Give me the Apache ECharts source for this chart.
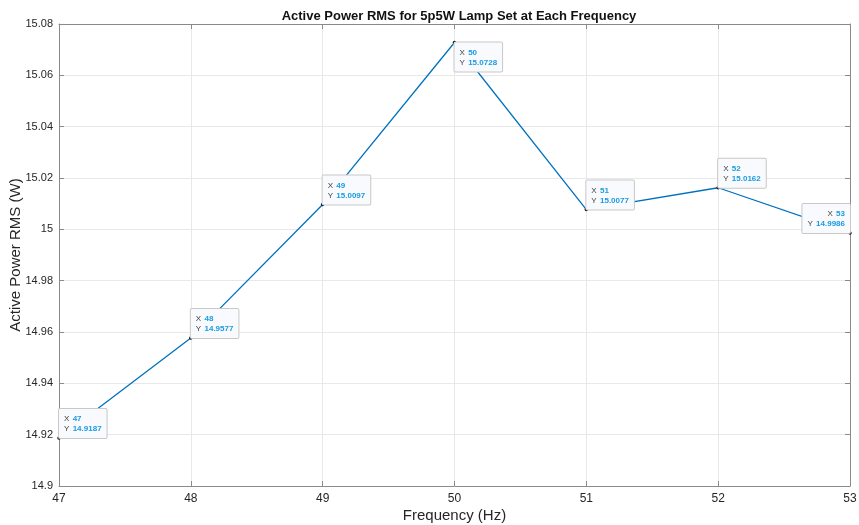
<!DOCTYPE html>
<html>
<head>
<meta charset="utf-8">
<script src="https://cdn.jsdelivr.net/npm/echarts@6/dist/echarts.min.js"></script>
<style>html,body{margin:0;padding:0;background:#fff}#c{width:859px;height:525px}</style>
</head>
<body>
<div id="c"></div>
<script>
const frequencies = [47, 48, 49, 50, 51, 52, 53];
const activePower = [14.9187, 14.9577, 15.0097, 15.0728, 15.0077, 15.0162, 14.9986];
const yTicks = [14.9, 14.92, 14.94, 14.96, 14.98, 15, 15.02, 15.04, 15.06, 15.08];
const xTicks = [47, 48, 49, 50, 51, 52, 53];

const FONT = "'Liberation Sans', Arial, Helvetica, sans-serif";
// datatip placement: [horizontal align, vertical align]
const tipPlacement = [
  ['left','bottom'],['left','bottom'],['left','bottom'],['left','top'],
  ['left','bottom'],['left','bottom'],['right','bottom']
];

const data = frequencies.map((f, i) => ({
  value: [f, activePower[i]],
  label: {
    show: true,
    position: 'inside',
    align: tipPlacement[i][0],
    verticalAlign: tipPlacement[i][1],
    formatter: () => '{k|X} {v|' + f + '}\n{k|Y} {v|' + activePower[i].toFixed(4) + '}',
    backgroundColor: '#f9fafd',
    borderColor: '#c8c8c8',
    borderWidth: 1,
    borderRadius: 1,
    padding: [5, 5, 4, 5],
    lineHeight: 10,
    rich: {
      k: { color: '#404040', fontSize: 8, fontFamily: FONT, lineHeight: 10 },
      v: { color: '#1a9be0', fontSize: 8, fontWeight: 'bold', fontFamily: FONT, lineHeight: 10 }
    }
  }
}));

const axisCommon = {
  axisLine: { show: true, lineStyle: { color: '#8a8a8a', width: 1 } },
  axisTick: { show: true, inside: true, length: 5, lineStyle: { color: '#8a8a8a' } }
};

const chart = echarts.init(document.getElementById('c'), null, { renderer: 'canvas' });
chart.setOption({
  animation: false,
  backgroundColor: '#ffffff',
  title: {
    text: 'Active Power RMS for 5p5W Lamp Set at Each Frequency',
    left: 454, top: 5, textAlign: 'center',
    textStyle: { fontFamily: FONT, fontSize: 13, fontWeight: 'bold', color: '#111' }
  },
  grid: { left: 59, right: 9, top: 24, bottom: 39, show: false, containLabel: false, outerBoundsMode: 'none' },
  xAxis: [{
    type: 'value', min: 47, max: 53, interval: 1,
    name: 'Frequency (Hz)', nameLocation: 'middle', nameGap: 22, nameMoveOverlap: false,
    nameTextStyle: { fontFamily: FONT, fontSize: 15, color: '#262626' },
    axisLabel: { fontFamily: FONT, fontSize: 12, color: '#262626', margin: 7,
      formatter: v => xTicks.includes(v) ? String(v) : '' },
    splitLine: { show: true, lineStyle: { color: '#e8e8e8', width: 1 } },
    ...axisCommon
  }, {
    type: 'value', position: 'top', min: 47, max: 53, interval: 1,
    axisLabel: { show: false }, splitLine: { show: false },
    ...axisCommon
  }],
  yAxis: [{
    type: 'value', min: 14.9, max: 15.08, interval: 0.02,
    name: 'Active Power RMS (W)', nameLocation: 'middle', nameGap: 36, nameMoveOverlap: false,
    nameTextStyle: { fontFamily: FONT, fontSize: 15, color: '#262626' },
    axisLabel: { fontFamily: FONT, fontSize: 11, color: '#262626', margin: 6,
      formatter: v => String(parseFloat(v.toFixed(2))) },
    splitLine: { show: true, lineStyle: { color: '#e8e8e8', width: 1 } },
    ...axisCommon
  }, {
    type: 'value', position: 'right', min: 14.9, max: 15.08, interval: 0.02,
    axisLabel: { show: false }, splitLine: { show: false },
    ...axisCommon
  }],
  series: [{
    type: 'line',
    data: data,
    lineStyle: { color: '#0072BD', width: 1.3 },
    itemStyle: { color: '#111' },
    symbol: 'circle', symbolSize: 3.5,
    showSymbol: true,
    z: 3
  }]
});
</script>
</body>
</html>
